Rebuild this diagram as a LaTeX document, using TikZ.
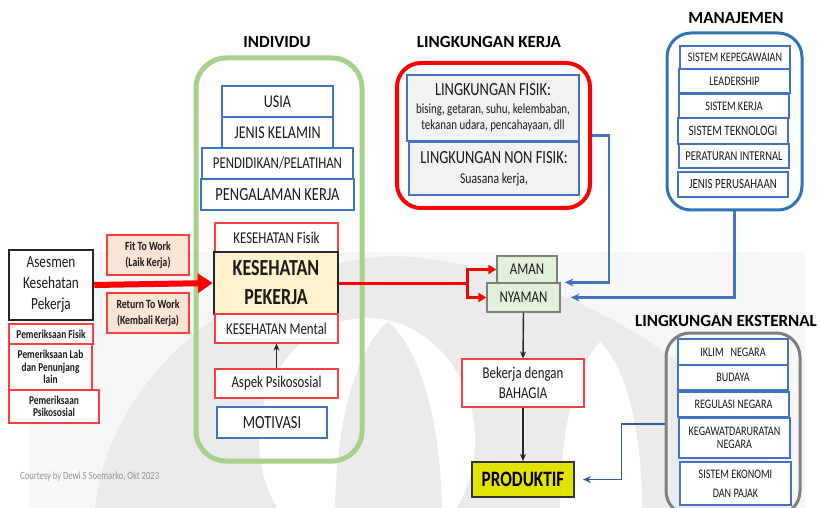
\documentclass[tikz,border=0pt]{standalone}
\usepackage{fontspec}
\setmainfont{Carlito}[FakeStretch=0.78]
\newfontfamily\titlefont{Carlito}
\usetikzlibrary{arrows.meta}
\definecolor{cRed}{HTML}{FF0000}
\definecolor{cRedL}{HTML}{FF3F3F}
\definecolor{cGreen}{HTML}{A9D18E}
\definecolor{cBlue}{HTML}{4472C4}
\definecolor{cBlueD}{HTML}{2E75B6}
\definecolor{cGray}{HTML}{7F7F7F}
\definecolor{cCream}{HTML}{FFF2CC}
\definecolor{cPeach}{HTML}{FBE5D6}
\definecolor{cLight}{HTML}{F2F2F2}
\definecolor{cMint}{HTML}{E2EFDA}
\definecolor{cYellow}{HTML}{E3E300}
\definecolor{cText}{HTML}{1A1A1A}
\newcommand\fs[2]{\fontsize{#1}{#2}\selectfont}
\newcommand\mybox[7]{\node[#2, minimum width={(#5-#3)*1pt}, minimum height={(#6-#4)*1pt}] (#1) at ({(#3+#5)/2},{(#4+#6)/2}) {#7};}
\begin{document}
\begin{tikzpicture}[x=1pt,y=-1pt,
  box/.style={draw, line width=1.2pt, inner sep=0pt, align=center, fill=white, text=cText},
  bbox/.style={box, draw=cBlue},
  rbox/.style={box, draw=cRedL},
  frame/.style={draw, inner sep=0pt, rounded corners=28pt},
  ttl/.style={font=\titlefont\bfseries\fs{17}{20}, text=black, inner sep=0pt},
  redarrow/.style={draw=cRed, line width=3pt, -{Triangle[length=8pt,width=9pt]}},
  redline/.style={draw=cRed, line width=3pt},
  bluearrow/.style={draw=cBlue, line width=2.4pt, -{Stealth[length=9pt,width=8pt]}},
  blackarrow/.style={draw=black!85, line width=1.4pt, -{Stealth[length=7pt,width=6pt]}},
  wm/.style={fill=black!8}
]
\clip (0,0) rectangle (820,508);
\fill[white] (0,0) rectangle (820,508);
% watermark
\fill[black!3] (30,252) rectangle (805,508);
\fill[wm] (95,508) .. controls (110,370) and (250,262) .. (395,256) .. controls (540,262) and (740,360) .. (790,508) -- cycle;
\fill[white] (367,440) ellipse [x radius=108pt, y radius=122pt];
\fill[wm] (335,508) .. controls (337,410) and (360,345) .. (388,322) .. controls (416,345) and (440,410) .. (442,508) -- cycle;
\fill[white] (560,508) .. controls (560,420) and (580,362) .. (600,342) .. controls (622,362) and (642,420) .. (642,508) -- cycle;

% titles
\node[ttl] (tInd) at (277,42) {INDIVIDU};
\node[ttl] (tLK) at (489,42) {LINGKUNGAN KERJA};
\node[ttl] (tMan) at (736,18) {MANAJEMEN};
\node[ttl] (tEks) at (726,321) {LINGKUNGAN EKSTERNAL};

% frames
\mybox{fInd}{frame, draw=cGreen, line width=5pt, rounded corners=30pt}{196}{58}{362}{461}{}
\mybox{fLK}{frame, draw=cRed, line width=4pt, rounded corners=24pt}{397}{63}{590}{208}{}
\mybox{fMan}{frame, draw=cBlueD, line width=3pt, rounded corners=24pt}{667}{33}{802}{210}{}
\mybox{fEks}{frame, draw=cGray, line width=3pt, rounded corners=24pt}{666}{333}{800}{515}{}

% individu
\mybox{usia}{bbox, font=\fs{18}{20}}{222}{86}{333}{117}{USIA}
\mybox{jk}{bbox, font=\fs{18}{20}}{222}{117}{333}{148}{JENIS KELAMIN}
\mybox{pend}{bbox, font=\fs{16.5}{20}}{202}{148}{353}{179}{PENDIDIKAN/PELATIHAN}
\mybox{peng}{bbox, font=\fs{18.5}{20}}{201}{179}{354}{210}{PENGALAMAN KERJA}
\mybox{fisik}{rbox, font=\fs{16.5}{20}}{215}{223}{338}{252}{KESEHATAN Fisik}
\mybox{kp}{box, draw=black!85, line width=2.5pt, fill=cCream, font=\bfseries\fs{23}{29}}{214}{252}{338}{314}{KESEHATAN\\PEKERJA}
\mybox{mental}{rbox, font=\fs{16.5}{20}}{215}{314}{338}{343}{KESEHATAN Mental}
\mybox{aspek}{rbox, font=\fs{16.5}{20}}{215}{369}{338}{398}{Aspek Psikososial}
\mybox{motiv}{bbox, font=\fs{18.5}{20}}{217}{407}{327}{438}{MOTIVASI}
\draw[blackarrow] (aspek.north) -- (mental.south);

% left
\mybox{ases}{box, draw=black!85, line width=2.5pt, font=\fs{17}{21}}{9}{250}{93}{320}{Asesmen\\Kesehatan\\Pekerja}
\mybox{pf}{rbox, font=\bfseries\fs{12}{13}}{9}{324}{93}{344}{Pemeriksaan Fisik}
\mybox{pl}{rbox, font=\bfseries\fs{12}{12.6}}{9}{344}{92}{390}{Pemeriksaan Lab\\dan Penunjang\\lain}
\mybox{pp}{rbox, font=\bfseries\fs{12}{12.5}}{9}{390}{99}{423}{Pemeriksaan\\Psikososial}
\mybox{fit}{rbox, fill=cPeach, font=\bfseries\fs{12.5}{16}}{107}{235}{189}{275}{Fit To Work\\(Laik Kerja)}
\mybox{ret}{rbox, fill=cPeach, font=\bfseries\fs{12.5}{16}}{107}{293}{189}{333}{Return To Work\\(Kembali Kerja)}
\draw[draw=cRed, line width=6pt, -{Triangle[length=15pt,width=19pt]}] (ases.east) -- (kp.west);
\node[text=black!42, font=\fs{11}{13}, anchor=west, inner sep=0pt] (court) at (20,477) {Courtesy by Dewi S Soemarko, Okt 2023};

% lingkungan kerja
\mybox{lf}{bbox, fill=cLight, font=\fs{14}{16}}{407}{75}{579}{141}{{\fs{18.5}{22}LINGKUNGAN FISIK:}\\[2pt]bising, getaran, suhu, kelembaban,\\tekanan udara, pencahayaan, dll}
\mybox{lnf}{bbox, fill=cLight, font=\fs{15}{20}}{409}{142}{579}{195}{{\fs{18.5}{22}LINGKUNGAN NON FISIK:}\\Suasana kerja,}

% manajemen
\mybox{m1}{bbox, font=\fs{13}{16}}{680}{46}{790}{69}{SISTEM KEPEGAWAIAN}
\mybox{m2}{bbox, font=\fs{13}{16}}{679}{69}{790}{93}{LEADERSHIP}
\mybox{m3}{bbox, font=\fs{13}{16}}{679}{94}{789}{118}{SISTEM KERJA}
\mybox{m4}{bbox, font=\fs{14.3}{16}}{678}{118}{788}{144}{SISTEM TEKNOLOGI}
\mybox{m5}{bbox, font=\fs{13.5}{16}}{679}{144}{789}{168}{PERATURAN INTERNAL}
\mybox{m6}{bbox, font=\fs{14}{16}}{678}{172}{788}{197}{JENIS PERUSAHAAN}

% eksternal
\mybox{e1}{bbox, font=\fs{13}{16}}{678}{339}{788}{365}{IKLIM\ \ \ NEGARA}
\mybox{e2}{bbox, font=\fs{13}{16}}{678}{365}{788}{390}{BUDAYA}
\mybox{e3}{bbox, font=\fs{13}{16}}{678}{392}{789}{417}{REGULASI NEGARA}
\mybox{e4}{bbox, font=\fs{13}{13.5}}{679}{418}{790}{458}{KEGAWATDARURATAN\\NEGARA}
\mybox{e5}{bbox, font=\fs{13}{19}}{680}{462}{791}{505}{SISTEM EKONOMI\\DAN PAJAK}

% middle column
\mybox{aman}{box, draw=cGray, fill=cMint, font=\fs{16.5}{20}}{497}{256}{557}{283}{AMAN}
\mybox{nyaman}{box, draw=cGray, fill=cMint, font=\fs{16.5}{20}}{487}{283}{560}{312}{NYAMAN}
\mybox{bek}{rbox, font=\fs{16.5}{20}}{462}{359}{584}{407}{Bekerja dengan\\BAHAGIA}
\mybox{prod}{box, draw=black!80, line width=2pt, fill=cYellow, font=\bfseries\fs{22}{26}, text=black}{472}{462}{574}{497}{PRODUKTIF}

% connectors
\coordinate (jn) at (467,283);
\draw[redline] (kp.east) -- (kp.east -| jn);
\draw[redarrow] (kp.east -| jn) |- (aman.west);
\draw[redarrow] (kp.east -| jn) |- (nyaman.west);
\coordinate (pA) at ([xshift=4pt]nyaman.north east);
\coordinate (pB) at ([xshift=10pt]nyaman.east);
\coordinate (pC) at ([xshift=8pt]prod.east);
\draw[bluearrow] (fLK.east) -- ++(17,0) |- (pA);
\draw[bluearrow] (fMan.south) |- (pB);
\draw[draw=cBlue!80!black, line width=1.8pt, -{Stealth[length=8pt,width=7pt]}] (fEks.west) -- ++(-43,0) |- (pC);
\draw[blackarrow] (nyaman.south) -- (bek.north);
\draw[blackarrow] (bek.south) -- (prod.north);
\end{tikzpicture}
\end{document}
